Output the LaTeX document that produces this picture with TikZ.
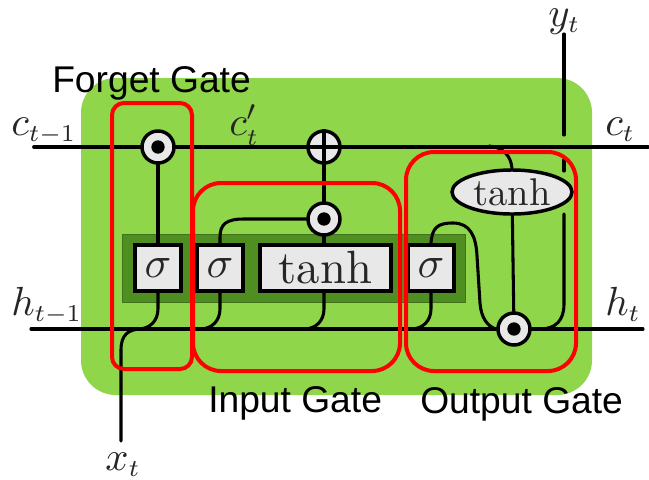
\documentclass[tikz,border=0pt]{standalone}
\usepackage{graphicx}
\usepackage{fontspec}
\usetikzlibrary{shapes.geometric}
\newfontfamily\gatefont{Liberation Sans}
\definecolor{cellgreen}{HTML}{8FD64B}
\definecolor{layergreen}{HTML}{4F8F22}
\definecolor{opfill}{HTML}{E8E8E8}
\definecolor{mathink}{HTML}{262626}
\pgfdeclarelayer{cellbase}
\pgfdeclarelayer{wires}
\pgfsetlayers{cellbase,wires,main}
\newcommand{\mlabel}[2]{\scalebox{3.05}{$#1_{\scalebox{.85}{$\scriptstyle #2$}}$}}
\tikzset{
  wire/.style={draw=black,line width=2.3pt,line cap=round},
  statewire/.style={draw=black,line width=2.8pt,line cap=round},
  opbox/.style={draw=black,line width=2.6pt,fill=opfill,inner sep=0pt,minimum height=34.5pt,text=mathink},
  opcirc/.style={circle,draw=black,line width=2.6pt,fill=opfill,inner sep=0pt,minimum size=24pt},
  opdot/.style={circle,fill=black,inner sep=0pt,minimum size=10pt},
  redbox/.style={draw=red,line width=3pt,rounded corners=#1,inner sep=0pt},
  gatelabel/.style={anchor=base west,inner sep=0pt,text=black,font=\gatefont\fontsize{27.9}{30}\selectfont},
  mathlabel/.style={anchor=base west,inner sep=0pt,text=mathink}
}
\begin{document}
\begin{tikzpicture}[x=0.75pt,y=-0.75pt]
\useasboundingbox (0,0) rectangle (649,479);
\begin{pgfonlayer}{cellbase}
\node[fill=cellgreen,rounded corners=26pt,inner sep=0pt,minimum width=383.25pt,minimum height=237.75pt] (cell) at (336.5,236.5) {};
\node[fill=layergreen,draw=layergreen!80!black,line width=.5pt,inner sep=0pt,minimum width=257.25pt,minimum height=51pt] (layer) at (293.5,268) {};
\end{pgfonlayer}
% free ends
\coordinate (cin) at (34,147);
\coordinate (cout) at (648,147);
\coordinate (hin) at (31,329);
\coordinate (hout) at (643,329);
\coordinate (xin) at (121,441);
\coordinate (yout) at (564,34);
\coordinate (ya) at (564,135);
\coordinate (yb) at (564,160);
\coordinate (yc) at (564,171);
\coordinate (yd) at (564,214);
% operators
\node[opbox,minimum width=34.5pt] (s1) at (158,268) {\scalebox{3.3}{$\sigma$}};
\node[opbox,minimum width=34.5pt] (s2) at (220,268) {\scalebox{3.3}{$\sigma$}};
\node[opbox,minimum width=98pt] (t1) at (325.5,268) {\scalebox{3.5}{tanh}};
\node[opbox,minimum width=34.5pt] (s3) at (431,268) {\scalebox{3.3}{$\sigma$}};
\node[ellipse,draw=black,line width=2.6pt,fill=opfill,inner sep=0pt,minimum width=90pt,minimum height=33pt,text=mathink] (t2) at (512,192) {\scalebox{2.9}{tanh}};
\node[opcirc] (m1) at (158,147) {};
\node[opcirc] (a1) at (324,147) {};
\node[opcirc] (m2) at (324,219) {};
\node[opcirc] (m3) at (514,329) {};
\node[opdot] (d1) at (m1) {};
\node[opdot] (d2) at (m2) {};
\node[opdot] (d3) at (m3) {};
\draw[line width=2.4pt] (a1.north) -- (a1.south);
\draw[line width=2.4pt] (a1.west) -- (a1.east);
% wires, under the operators
\begin{pgfonlayer}{wires}
\draw[statewire] (cin) -- (m1);
\draw[statewire] (m1) -- (a1);
\draw[statewire] (a1) -- (cout);
\draw[wire] (hin) -- (m3);
\draw[wire] (m3) -- (hout);
\draw[wire] (s1) -- (m1);
\draw[wire] (a1) -- (m2);
\draw[wire] (t1.north -| m2) -- (m2);
\draw[wire] (s2.north) -- ++(0,-6) .. controls +(0,-13) and (226,219) .. (244,219) -- (m2);
\draw[wire] (s1.south) -- ++(0,16) .. controls +(0,12) and (150,329) .. (138,329);
\draw[wire] (xin) -- (121,350) .. controls (121,335) and (128,329) .. (142,329);
\draw[wire] (s2.south) -- ++(0,16) .. controls +(0,12) and (212,329) .. (200,329);
\draw[wire] (t1.south -| m2) -- ++(0,16) .. controls +(0,12) and (316,329) .. (304,329);
\draw[wire] (s3.south) -- ++(0,16) .. controls +(0,12) and (423,329) .. (411,329);
\draw[wire] (s3.north) .. controls +(1,-16) and (438,223) .. (453,223) .. controls (470,223) and (476,236) .. (477,256) -- (480,303) .. controls (481,318) and (488,327) .. (m3.west);
\draw[wire] (m3) -- (t2);
\draw[wire] (t2.north) .. controls (511,156) and (503,147) .. (489,146);
\draw[wire] (yout) -- (ya);
\draw[wire] (yb) -- (yc);
\draw[wire] (yd) -- (564,304) .. controls (564,320) and (556,329) .. (540,329);
\end{pgfonlayer}
% red gate frames
\node[redbox=9pt,minimum width=60pt,minimum height=199.5pt] (gf) at (152,236) {};
\node[redbox=21pt,minimum width=155.25pt,minimum height=141pt] (gi) at (296.5,277) {};
\node[redbox=21pt,minimum width=127.5pt,minimum height=164.25pt] (go) at (491,261.5) {};
% labels
\node[gatelabel] (lf) at (52,92) {Forget Gate};
\node[gatelabel] (li) at (208,412) {Input Gate};
\node[gatelabel] (lo) at (420,413) {Output Gate};
\node[mathlabel] (lc0) at (11,135) {\mlabel{c}{t-1}};
\node[mathlabel] (lc1) at (229,135) {\mlabel{c'}{t}};
\node[mathlabel] (lc2) at (605,135) {\mlabel{c}{t}};
\node[mathlabel] (lh0) at (11,315) {\mlabel{h}{t-1}};
\node[mathlabel] (lh1) at (605,315) {\mlabel{h}{t}};
\node[mathlabel] (ly) at (548,26) {\mlabel{y}{t}};
\node[mathlabel] (lx) at (105,470) {\mlabel{x}{t}};
\end{tikzpicture}
\end{document}
